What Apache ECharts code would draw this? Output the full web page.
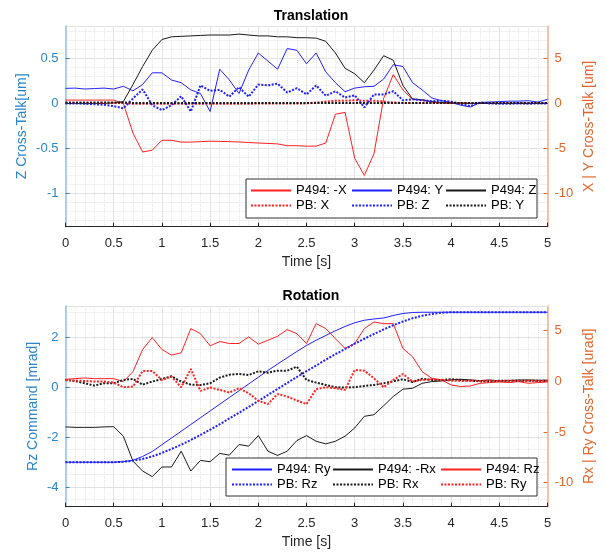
<!DOCTYPE html>
<html>
<head>
<meta charset="utf-8">
<script src="https://cdn.jsdelivr.net/npm/echarts@6/dist/echarts.min.js"></script>
<style>
  html, body { margin: 0; padding: 0; background: #fff; }
  #chart { width: 606px; height: 552px; }
</style>
</head>
<body>
<div id="chart"></div>
<script>
// time base [s]
const time = [0, 0.1, 0.2, 0.3, 0.4, 0.5, 0.6, 0.7, 0.8, 0.9, 1, 1.1, 1.2, 1.3, 1.4, 1.5, 1.6, 1.7, 1.8, 1.9,
  2, 2.1, 2.2, 2.3, 2.4, 2.5, 2.6, 2.7, 2.8, 2.9, 3, 3.1, 3.2, 3.3, 3.4, 3.5, 3.6, 3.7, 3.8, 3.9,
  4, 4.1, 4.2, 4.3, 4.4, 4.5, 4.6, 4.7, 4.8, 4.9, 5];

// ---- Translation ----
// left axis [um]
const p494Z = [0, 0, 0, 0, 0, 0.005, 0.02, 0.21, 0.41, 0.59, 0.71, 0.74, 0.745, 0.75, 0.755, 0.76, 0.76, 0.76, 0.77, 0.76,
  0.75, 0.75, 0.74, 0.74, 0.73, 0.73, 0.725, 0.69, 0.56, 0.39, 0.33, 0.23, 0.37, 0.53, 0.48, 0.2, 0.05, 0.04, 0.02, 0.01,
  0.005, 0.005, 0, 0, 0, 0, 0, 0, 0, 0, 0];
const pbZ = [0, 0, -0.005, -0.01, -0.015, -0.03, -0.055, 0.055, 0.155, -0.02, -0.075, -0.02, 0.08, -0.09, 0.2, 0.14, 0.15, 0.075, 0.18, 0.075,
  0.21, 0.2, 0.22, 0.12, 0.17, 0.1, 0.2, 0.085, 0.135, 0.065, 0.09, -0.045, 0.1, 0.1, 0.135, 0.035, 0.045, 0.035, 0.025, 0.03,
  0.02, -0.005, -0.03, 0.01, 0, -0.005, -0.005, 0, -0.005, 0, 0];
// right axis [um]
const p494X = [0.37, 0.37, 0.37, 0.37, 0.37, 0.37, 0, -3.3, -5.4, -5.2, -4.1, -4.1, -4.3, -4.3, -4.25, -4.2, -4.22, -4.25, -4.28, -4.35,
  -4.4, -4.45, -4.5, -4.7, -4.7, -4.75, -4.75, -4.4, -1.2, -1.0, -6.1, -8.0, -5.6, 0.55, 3.2, 1.5, 0.45, 0.35, 0.15, 0.05,
  0, 0, 0, 0, 0, 0, 0, 0, 0, 0, 0];
const p494Y = [1.67, 1.7, 1.6, 1.65, 1.7, 1.6, 1.9, 1.4, 2.1, 3.4, 3.4, 2.6, 2.3, 1.5, 1.1, -0.9, 3.8, 2.6, 1.1, 3.7,
  5.6, 4.7, 3.8, 6.1, 5.9, 4.4, 5.6, 3.5, 2.3, 1.3, 1.7, 1.85, 1.9, 2.7, 4.3, 4.1, 2.3, 1.5, 0.6, 0.3,
  0.1, -0.2, -0.4, 0.1, 0.15, 0.2, 0.25, 0.25, 0.3, 0.15, 0.45];
const pbX = [0.05, 0.05, 0.05, 0.05, 0.05, 0.05, 0.05, -0.05, -0.05, -0.05, -0.05, -0.05, -0.05, -0.05, -0.05, -0.05, -0.05, -0.05, -0.05, -0.05,
  0, 0, 0, 0, 0, 0, 0.1, 0.2, 0.3, 0.3, 0.35, 0.3, 0.3, 0.2, 0.1, 0.05, 0.05, 0.05, 0.05, 0.05,
  0.05, 0.05, 0.05, 0.05, 0.05, 0.05, 0.05, 0.05, 0.05, 0.05, 0.05];
const pbY = [0.1, 0.1, 0.1, 0.1, 0.1, 0.1, 0.1, 0.05, 0.05, 0.05, 0.05, 0.05, 0.05, 0.05, 0.05, 0.05, 0.05, 0.05, 0.05, 0.05,
  0.05, 0.05, 0.05, 0.05, 0.05, 0.05, 0.05, 0.05, 0.05, 0.05, 0.05, 0.05, 0.05, 0.05, 0.05, 0.05, 0.05, 0.05, 0.05, 0.05,
  0.05, 0.05, 0.05, 0.05, 0.05, 0.05, 0.05, 0.05, 0.05, 0.05, 0.05];

// ---- Rotation ----
// left axis [mrad]
const p494Ry = [-3, -3, -3, -3, -3, -3, -2.98, -2.92, -2.77, -2.57, -2.3, -2.03, -1.76, -1.49, -1.22, -0.95, -0.68, -0.41, -0.14, 0.13,
  0.4, 0.67, 0.93, 1.18, 1.43, 1.67, 1.88, 2.07, 2.26, 2.43, 2.58, 2.68, 2.73, 2.77, 2.87, 2.95, 2.99, 3, 3, 3,
  3, 3, 3, 3, 3, 3, 3, 3, 3, 3, 3];
const pbRz = [-3, -3, -3, -3, -3, -3, -2.98, -2.94, -2.87, -2.77, -2.63, -2.47, -2.3, -2.11, -1.91, -1.7, -1.48, -1.25, -1.02, -0.79,
  -0.55, -0.31, -0.07, 0.17, 0.41, 0.64, 0.87, 1.1, 1.32, 1.53, 1.74, 1.94, 2.13, 2.31, 2.48, 2.63, 2.76, 2.86, 2.93, 2.98,
  3, 3, 3, 3, 3, 3, 3, 3, 3, 3, 3];
// right axis [urad]
const p494Rx = [-4.5, -4.55, -4.55, -4.55, -4.5, -4.48, -5.42, -7.88, -8.86, -9.41, -8.46, -8.46, -6.9, -8.86, -7.81, -7.94, -7.12, -7.29, -6.24, -6.41,
  -5.36, -6.9, -7.32, -6.9, -5.85, -5.36, -5.92, -6.18, -5.92, -5.42, -4.61, -3.46, -3.3, -2.42, -1.5, -0.78, -0.69, -0.2, -0.03, 0.03,
  0.13, 0.2, 0.13, 0.07, 0.13, 0.03, 0.07, 0.13, 0.13, 0.1, 0.1];
const p494Rz = [0.2, 0.26, 0.33, 0.26, 0.26, 0.26, -0.03, 0.95, 3.14, 4.31, 3.14, 2.58, 2.81, 5.2, 4.7, 3.5, 3.92, 3.73, 3.73, 4.38,
  3.66, 4.05, 4.44, 5.1, 4.7, 3.73, 5.69, 5.2, 4.2, 3.24, 3.73, 5.2, 5.85, 5.69, 5.69, 3.24, 2.42, 0.95, 0.29, 0.13,
  -0.36, -0.52, -0.46, -0.2, -0.13, -0.07, -0.13, -0.03, -0.2, -0.13, -0.07];
const pbRx = [0.13, 0.03, -0.2, -0.42, -0.2, -0.2, 0.13, 0.23, -0.33, -0.03, 0.23, 0.49, -0.03, -0.33, -0.36, -0.2, 0.36, 0.65, 0.72, 0.62,
  0.98, 0.85, 1.05, 1.05, 1.44, 0.13, -0.13, -0.36, -0.59, -0.62, -0.59, -0.46, -0.36, -0.2, 0, 0.2, -0.07, 0.26, 0.13, 0.13,
  0.2, 0.13, 0.07, 0, 0, 0.05, 0.05, 0.05, 0.05, 0.05, 0.05];
const pbRy = [0.13, 0.07, 0.03, -0.03, -0.03, -0.13, -0.59, -0.52, 1.01, 1.01, 0.13, 0.46, -0.59, 1.21, -0.95, -0.62, -0.85, -1.11, -0.69, -1.18,
  -1.93, -2.25, -1.27, -1.5, -1.9, -2.25, -0.78, -0.59, -0.69, -0.85, 1.11, 1.05, 0.29, -0.59, 0.13, 0.72, -0.03, 0.13, 0.2, 0.13,
  0.07, 0.03, 0.05, 0.03, 0.05, 0.03, 0.05, 0.03, 0.05, 0.03, 0.05];

const font = 'Liberation Sans, Arial, sans-serif';
const txt = '#262626';
const leftText = '#2a86cc', leftLine = '#96c4e6';
const rightText = '#e0662c', rightLine = '#f2b394';
const RED = '#ff2020', BLUE = '#2020ff', BLACK = '#1a1a1a';

function pairs(vals) {
  return time.map((t, i) => [t, vals[i]]);
}

function line(name, vals, color, dotted, xi, yi) {
  return {
    name: name,
    type: 'line',
    xAxisIndex: xi,
    yAxisIndex: yi,
    data: pairs(vals),
    symbol: 'none',
    animation: false,
    itemStyle: { color: color },
    lineStyle: dotted
      ? { color: color, width: 2, type: [2, 1.5] }
      : { color: color, width: 1 }
  };
}

function xAx(gi) {
  return {
    gridIndex: gi, type: 'value', min: 0, max: 5, interval: 0.5,
    name: 'Time [s]', nameLocation: 'middle', nameGap: 28,
    nameTextStyle: { color: txt, fontSize: 14, fontFamily: font },
    axisLine: { show: true, onZero: false, lineStyle: { color: '#262626' } },
    axisTick: { show: true, inside: true, length: 4, lineStyle: { color: '#262626' } },
    axisLabel: { color: txt, fontSize: 13, fontFamily: font, margin: 10 },
    splitLine: { show: true, lineStyle: { color: '#e2e2e2' } },
    minorTick: { show: false, splitNumber: 5 },
    minorSplitLine: { show: true, lineStyle: { color: '#e4e4e4', type: 'dotted' } }
  };
}

// min/max are the visible limits; ticks come from the library's nice step
function yAx(gi, side, min, max, name, gap, minorSplit, grid) {
  const left = side === 'left';
  return {
    gridIndex: gi, type: 'value', position: side, min: min, max: max, splitNumber: 4,
    name: name, nameLocation: 'middle', nameGap: gap, nameMoveOverlap: false,
    nameTextStyle: { color: left ? leftText : rightText, fontSize: 14, fontFamily: font },
    axisLine: { show: true, lineStyle: { color: left ? leftLine : rightLine, width: 1.5 } },
    axisTick: { show: true, inside: true, length: 4, lineStyle: { color: left ? leftText : rightText } },
    axisLabel: { color: left ? leftText : rightText, fontSize: 13, fontFamily: font, margin: 7,
      showMinLabel: false, showMaxLabel: false },
    splitLine: { show: grid, lineStyle: { color: '#e2e2e2' } },
    minorTick: { show: false, splitNumber: minorSplit },
    minorSplitLine: { show: grid, lineStyle: { color: '#e4e4e4', type: 'dotted' } }
  };
}

function legendCol(names, left, top) {
  return {
    data: names, orient: 'vertical', left: left, top: top, padding: 0,
    itemWidth: 40, itemHeight: 14, itemGap: 2, selectedMode: false, z: 10,
    itemStyle: { opacity: 0 },
    textStyle: { color: '#000', fontSize: 13, fontFamily: font }
  };
}

const chart = echarts.init(document.getElementById('chart'));
chart.setOption({
  backgroundColor: '#fff',
  animation: false,
  title: [
    { text: 'Translation', left: 306, top: 4, textAlign: 'center',
      textStyle: { fontSize: 14, fontWeight: 'bold', color: '#000', fontFamily: font } },
    { text: 'Rotation', left: 306, top: 284, textAlign: 'center',
      textStyle: { fontSize: 14, fontWeight: 'bold', color: '#000', fontFamily: font } }
  ],
  grid: [
    { left: 65.5, right: 58.5, top: 26, height: 200.7 },
    { left: 65.5, right: 58.5, top: 306, height: 200.7 }
  ],
  xAxis: [xAx(0), xAx(1)],
  yAxis: [
    yAx(0, 'left', -1.37, 0.86, 'Z Cross-Talk[um]', 36, 5, true),
    yAx(0, 'right', -13.7, 8.6, 'X | Y Cross-Talk [um]', 35, 5, false),
    yAx(1, 'left', -4.78, 3.25, 'Rz Command [mrad]', 25, 4, true),
    yAx(1, 'right', -12.38, 7.43, 'Rx | Ry Cross-Talk [urad]', 35, 5, false)
  ],
  legend: [
    legendCol(['P494: -X', 'PB: X'], 250, 184),
    legendCol(['P494: Y', 'PB: Z'], 351, 184),
    legendCol(['P494: Z', 'PB: Y'], 445, 184),
    legendCol(['P494: Ry', 'PB: Rz'], 231, 463),
    legendCol(['P494: -Rx', 'PB: Rx'], 332, 463),
    legendCol(['P494: Rz', 'PB: Ry'], 440, 463)
  ],
  graphic: [
    { type: 'rect', z: 5, shape: { x: 246, y: 179, width: 291, height: 39 },
      style: { fill: '#fff', stroke: '#333', lineWidth: 1 } },
    { type: 'rect', z: 5, shape: { x: 226, y: 458, width: 311, height: 38 },
      style: { fill: '#fff', stroke: '#333', lineWidth: 1 } }
  ],
  series: [
    line('P494: -X', p494X, RED, false, 0, 1),
    line('P494: Y', p494Y, BLUE, false, 0, 1),
    line('P494: Z', p494Z, BLACK, false, 0, 0),
    line('PB: X', pbX, RED, true, 0, 1),
    line('PB: Z', pbZ, BLUE, true, 0, 0),
    line('PB: Y', pbY, BLACK, true, 0, 1),
    line('P494: Ry', p494Ry, BLUE, false, 1, 2),
    line('P494: -Rx', p494Rx, BLACK, false, 1, 3),
    line('P494: Rz', p494Rz, RED, false, 1, 3),
    line('PB: Rz', pbRz, BLUE, true, 1, 2),
    line('PB: Rx', pbRx, BLACK, true, 1, 3),
    line('PB: Ry', pbRy, RED, true, 1, 3)
  ]
});
</script>
</body>
</html>
